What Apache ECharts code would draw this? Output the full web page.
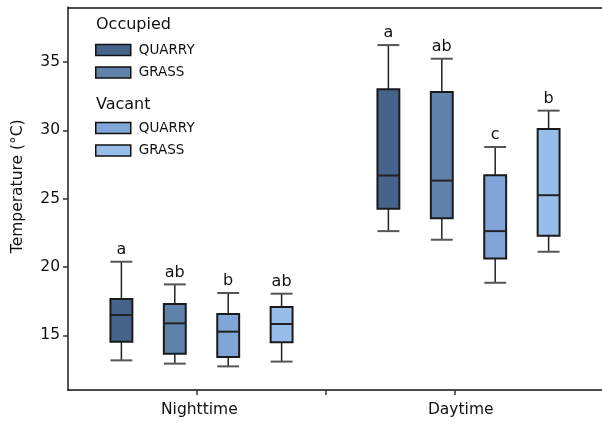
<!DOCTYPE html>
<html>
<head>
<meta charset="utf-8">
<script src="https://cdn.jsdelivr.net/npm/echarts@6/dist/echarts.min.js"></script>
<style>html,body{margin:0;padding:0;background:#fff;}#c{width:602px;height:425px;}</style>
</head>
<body>
<div id="c"></div>
<script>
// ---- data ----
const categories = ['Nighttime', 'Daytime'];
const groupNames = ['Occupied', 'Vacant'];
const habitatNames = ['QUARRY', 'GRASS'];
const yTicks = [15, 20, 25, 30, 35];
// each item: [low whisker, Q1, median, Q3, high whisker] for Nighttime, Daytime
const occQuarry = [[13.17, 14.54, 16.49, 17.66, 20.39], [22.63, 24.26, 26.70, 33.01, 36.25]];
const occGrass  = [[12.93, 13.66, 15.88, 17.30, 18.73], [22.00, 23.58, 26.33, 32.81, 35.25]];
const vacQuarry = [[12.73, 13.42, 15.27, 16.56, 18.10], [18.85, 20.63, 22.63, 26.72, 28.79]];
const vacGrass  = [[13.08, 14.49, 15.83, 17.08, 18.05], [21.12, 22.29, 25.26, 30.11, 31.45]];
const occQuarryLetters = ['a', 'a'];
const occGrassLetters  = ['ab', 'ab'];
const vacQuarryLetters = ['b', 'c'];
const vacGrassLetters  = ['ab', 'b'];

const seriesDefs = [
  { name: 'Occupied QUARRY', data: occQuarry, letters: occQuarryLetters, color: '#46638b' },
  { name: 'Occupied GRASS',  data: occGrass,  letters: occGrassLetters,  color: '#5f83ab' },
  { name: 'Vacant QUARRY',   data: vacQuarry, letters: vacQuarryLetters, color: '#7fa6d6' },
  { name: 'Vacant GRASS',    data: vacGrass,  letters: vacGrassLetters,  color: '#97bdea' }
];

const FONT = 'DejaVu Sans';
const BOX_W = 0.41; // in slot units
const SLOTS_PER_GROUP = 5;

function makeRender(letters) {
  return function (params, api) {
    const x = api.value(0);
    const pLow = api.coord([x, api.value(1)]);
    const pQ1 = api.coord([x, api.value(2)]);
    const pMed = api.coord([x, api.value(3)]);
    const pQ3 = api.coord([x, api.value(4)]);
    const pHigh = api.coord([x, api.value(5)]);
    const hw = api.size([BOX_W, 0])[0] / 2;
    const cx = pMed[0];
    const col = api.visual('color');
    return {
      type: 'group',
      children: [
        { type: 'line', shape: { x1: cx, y1: pQ3[1], x2: cx, y2: pHigh[1] }, style: { stroke: '#222', lineWidth: 1.5 } },
        { type: 'line', shape: { x1: cx, y1: pQ1[1], x2: cx, y2: pLow[1] }, style: { stroke: '#222', lineWidth: 1.5 } },
        { type: 'line', shape: { x1: cx - hw, y1: pHigh[1], x2: cx + hw, y2: pHigh[1] }, style: { stroke: '#555', lineWidth: 2 } },
        { type: 'line', shape: { x1: cx - hw, y1: pLow[1], x2: cx + hw, y2: pLow[1] }, style: { stroke: '#555', lineWidth: 2 } },
        { type: 'rect', shape: { x: cx - hw, y: pQ3[1], width: hw * 2, height: pQ1[1] - pQ3[1] }, style: { fill: col, stroke: '#1a1a1a', lineWidth: 2 } },
        { type: 'line', shape: { x1: cx - hw, y1: pMed[1], x2: cx + hw, y2: pMed[1] }, style: { stroke: '#222', lineWidth: 2 } },
        { type: 'text', x: cx, y: pHigh[1] - 4, style: { text: letters[params.dataIndex], fill: '#111', font: '16px "' + FONT + '"', align: 'center', verticalAlign: 'bottom' } }
      ]
    };
  };
}

const series = seriesDefs.map(function (s, si) {
  return {
    type: 'custom',
    name: s.name,
    xAxisIndex: 0,
    yAxisIndex: 0,
    itemStyle: { color: s.color },
    renderItem: makeRender(s.letters),
    data: s.data.map(function (d, gi) {
      return [gi * SLOTS_PER_GROUP + si + 1].concat(d);
    })
  };
});

const legendCommon = {
  orient: 'vertical',
  left: 95,
  padding: 0,
  itemWidth: 35,
  itemHeight: 11,
  itemGap: 8.5,
  icon: 'rect',
  selectedMode: false,
  itemStyle: { borderColor: '#111', borderWidth: 1.5 },
  textStyle: { fontFamily: FONT, fontSize: 13.5, color: '#111', padding: [0, 0, 0, 3] },
  formatter: function (n) { return n.split(' ')[1]; }
};

const labelPos = [1.02, 3.05];

const option = {
  animation: false,
  backgroundColor: '#fff',
  grid: { left: 68, top: 7.5, width: 542, height: 382.5 },
  xAxis: [
    {
      type: 'value', min: 0, max: 10, position: 'top',
      axisLine: { show: true, onZero: false, lineStyle: { color: '#111', width: 1.5 } },
      axisTick: { show: false }, axisLabel: { show: false }, splitLine: { show: false }
    },
    {
      type: 'value', min: 0, max: 4.147, position: 'bottom',
      axisLine: { show: true, onZero: false, lineStyle: { color: '#111', width: 1.5 } },
      axisTick: { show: true, length: 5, customValues: [1, 2, 3], lineStyle: { color: '#333', width: 1.5 } },
      axisLabel: {
        customValues: labelPos, margin: 12,
        fontFamily: FONT, fontSize: 15.5, color: '#111',
        formatter: function (v) { return v < 2 ? categories[0] : categories[1]; }
      },
      splitLine: { show: false }
    }
  ],
  yAxis: {
    type: 'value', min: 11, max: 39,
    name: 'Temperature (°C)', nameLocation: 'middle', nameGap: 42,
    nameTextStyle: { fontFamily: FONT, fontSize: 15.5, color: '#111', padding: [0, 0, 0, 25] },
    axisLine: { show: true, onZero: false, lineStyle: { color: '#555', width: 2 } },
    axisTick: { show: true, length: 5, customValues: yTicks, lineStyle: { color: '#333', width: 1.5 } },
    axisLabel: { customValues: yTicks, margin: 8, fontFamily: FONT, fontSize: 15.5, color: '#111' },
    splitLine: { show: false }
  },
  legend: [
    Object.assign({ top: 43, data: ['Occupied QUARRY', 'Occupied GRASS'] }, legendCommon),
    Object.assign({ top: 121, data: ['Vacant QUARRY', 'Vacant GRASS'] }, legendCommon)
  ],
  graphic: [
    { type: 'text', left: 96, top: 17, style: { text: groupNames[0], font: '16px "' + FONT + '"', fill: '#111' } },
    { type: 'text', left: 96, top: 97, style: { text: groupNames[1], font: '16px "' + FONT + '"', fill: '#111' } }
  ],
  series: series
};

const chart = echarts.init(document.getElementById('c'), null, { renderer: 'canvas' });
chart.setOption(option);
</script>
</body>
</html>
